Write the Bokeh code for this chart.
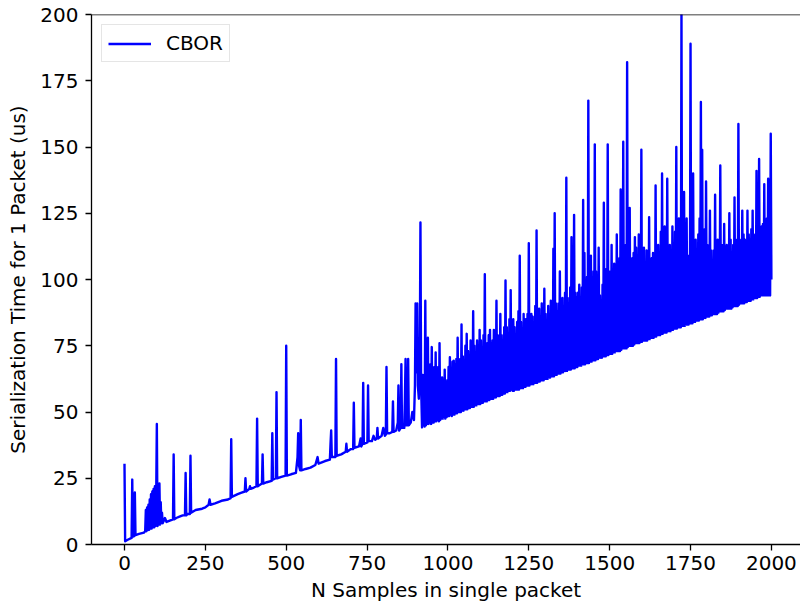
from bokeh.plotting import figure
from bokeh.models import Range1d, FixedTicker, Span
from bokeh.embed import file_html
from bokeh.resources import INLINE

FONT = "DejaVu Sans"

x_ticks = [0, 250, 500, 750, 1000, 1250, 1500, 1750, 2000]
y_ticks = [0, 25, 50, 75, 100, 125, 150, 175, 200]
series_name = "CBOR"

# Region 1: N samples 0 .. 917 (sparse spikes over a rising baseline)
samples_a = [
    0, 2, 10, 22, 24, 26, 30, 32, 34, 45,
    60, 64, 66, 68, 70, 72, 74, 76, 78, 80,
    82, 84, 86, 88, 90, 92, 94, 96, 98, 100,
    102, 104, 106, 108, 110, 112, 114, 116, 118, 125,
    130, 140, 150, 152, 154, 160, 170, 180, 187, 189,
    191, 195, 202, 204, 206, 220, 240, 250, 260, 263,
    266, 280, 300, 320, 328, 330, 332, 350, 360, 372,
    374, 376, 386, 388, 390, 400, 408, 410, 412, 425,
    427, 429, 440, 455, 457, 459, 468, 470, 472, 485,
    498, 500, 502, 515, 530, 535, 537, 539, 543, 545,
    547, 560, 575, 590, 597, 600, 620, 635, 637, 639,
    641, 652, 654, 656, 670, 684, 686, 688, 700, 707,
    709, 711, 725, 730, 732, 736, 738, 740, 751, 753,
    755, 765, 770, 775, 780, 782, 784, 795, 800, 805,
    808, 810, 812, 820, 828, 830, 832, 840, 845, 847,
    849, 854, 856, 858, 865, 867, 869, 871, 875, 877,
    879, 885, 890, 895, 898, 900, 902, 905, 907, 910,
    913, 915, 917,
]
time_a = [
    30.5, 1.2, 1.8, 2.5, 24.5, 3, 3.2, 19.6, 3.5, 4,
    4.5, 5, 13, 5, 14, 5.5, 15, 5.5, 17, 6,
    19, 6, 20, 6.5, 21, 6.5, 22, 7, 18, 45.5,
    7, 20, 7.5, 23, 7.5, 16, 8, 12, 8, 10,
    8.5, 9, 9.5, 34, 9.5, 10, 10.5, 11, 11, 27,
    11, 11.5, 11.5, 33.5, 12, 13, 13.5, 14, 15, 17,
    15, 15.5, 16.5, 17, 17.5, 39.7, 18, 19, 19.5, 20,
    25, 20, 21, 22, 21, 21.5, 22, 47.5, 22, 23,
    34, 23, 23.5, 24, 42, 24.5, 25, 57.5, 25, 25.5,
    26, 75, 26, 26.5, 27, 33, 42, 30, 28, 47,
    28, 28.5, 29, 30, 33, 30.5, 31.5, 32, 38, 43,
    33, 33, 70, 33.5, 34, 35, 38, 35, 36, 36,
    53.5, 36.5, 37, 40, 37, 38, 61, 38, 38.5, 60,
    39, 39, 41, 39.5, 40, 44, 40, 41, 44, 41,
    41.5, 67, 42, 42, 42.5, 54, 42.5, 43, 46, 60,
    43, 44, 68, 44, 44, 55, 70, 45, 45, 70,
    45, 46, 50, 47, 60, 91, 65, 91, 60, 55,
    70, 121.5, 60,
]

# Region 2: every second N from 920 to 1458 (dense oscillation)
samples_b = list(range(920, 1460, 2))
time_b = [
    44.2, 64, 45, 62, 44.5, 92, 45, 66, 45.5, 78,
    45.5, 64, 46, 68, 45.5, 74.5, 46, 65, 46, 67,
    46.5, 72.5, 46.5, 64, 47, 67, 46.5, 76, 47, 63,
    47.5, 63, 47.5, 61, 48, 66, 47.5, 60, 48, 62,
    48.5, 67, 48.5, 70.7, 49, 66, 48.5, 69, 49, 69.4,
    49, 68, 49.5, 70, 49.5, 78, 50, 66, 50, 70,
    50, 83, 50.5, 71, 50.5, 68, 51, 75, 51, 79.5,
    51, 73, 51.5, 70, 51.5, 77, 52, 71, 52, 88,
    52, 75, 52.5, 72, 52.5, 77, 53, 73, 53, 81,
    53, 77, 53.5, 73, 53.5, 79, 54, 102, 54, 76,
    54, 76, 54.5, 79, 54.5, 81, 55, 76, 55, 77,
    55, 81, 55.5, 76, 55.5, 92, 56, 79, 56, 77,
    56, 87, 56.5, 79, 56.5, 76, 57, 82, 57, 99.6,
    57.5, 82, 57.5, 78, 58, 85, 58, 96, 58.5, 80,
    58, 85, 58, 82, 58.5, 78, 58.5, 84, 58.5, 88,
    58.5, 109, 59, 84, 59, 81, 59, 87, 59.5, 85,
    59.5, 85, 60, 87, 60, 113.7, 60, 82, 60.5, 87,
    60.5, 86, 60.5, 84, 61, 90, 61, 118.5, 61, 89,
    61.5, 89, 61.5, 86, 62, 91, 62, 84, 62, 96.5,
    62.5, 87, 62.5, 84, 62.5, 90, 63, 86, 63, 92,
    63.5, 89, 63.5, 111.6, 63.5, 125, 64, 91, 64, 88,
    64.5, 91, 64.5, 103, 64.5, 89, 65, 93, 65, 89,
    65.5, 95, 65.5, 138.4, 65.5, 93, 66, 91, 66, 97,
    66, 116, 66.5, 99, 66.5, 124.4, 66.5, 95, 67, 93,
    67, 95, 67.5, 98, 67.5, 93, 67.5, 97, 68, 130,
    68, 110, 68, 95, 68.5, 101, 68.5, 167.5, 68.5, 99,
    69, 109, 69, 101, 69.5, 103, 69.5, 151, 69.5, 103,
]

# Region 3: every second N from 1460 to 2000 (dense oscillation, largest spikes)
samples_c = list(range(1460, 2001, 2))
time_c = [
    70, 96, 70, 112, 70.5, 94, 70.5, 92, 70.5, 98,
    71, 129, 71, 98, 71, 104, 71.5, 151, 71.5, 100,
    72, 103, 72, 113, 72, 98, 72.5, 106, 72.5, 102,
    73, 117, 73, 100, 73, 108, 73, 134, 73.5, 104,
    74, 152, 74, 106, 74, 113, 74, 182, 74.5, 108,
    75, 127, 75, 104, 75, 108, 75, 110, 75.5, 116,
    76, 112, 76, 106, 76, 117, 76, 108, 76.5, 149,
    76.5, 108, 77, 112, 77, 104, 77, 111, 77, 106,
    77.5, 123.5, 77.5, 106, 78, 108, 78, 110, 78, 105,
    78.5, 135.5, 78.5, 108, 79, 113, 79, 106, 79, 118,
    79.5, 140, 79.5, 112, 80, 120, 80, 108, 80, 138,
    80.5, 110, 80.5, 113, 80.5, 108, 81, 120, 81, 112,
    81.5, 118, 81.5, 150, 81.5, 112, 82, 123, 82, 114,
    82, 200.5, 82.5, 116, 82.5, 133, 82.5, 118, 83, 123,
    83, 109, 83, 98, 83.5, 189, 83.5, 111, 83.5, 140,
    84, 109, 84, 115, 84.5, 111, 84.5, 117, 84.5, 123,
    85, 167, 85, 149, 85, 113, 85.5, 119, 85.5, 137,
    86, 113, 86, 109, 86, 126, 86.5, 111, 86.5, 105,
    87, 111, 87, 132, 87, 109, 87, 115, 87.5, 111,
    88, 143, 88, 110, 88, 113, 88, 121, 88.5, 109,
    89, 113, 89, 111, 89, 125, 89, 115, 89, 110,
    89.5, 113, 90, 131, 90, 111, 90, 115, 90, 158.7,
    90.5, 115, 91, 113, 91, 126, 91, 117, 91, 115,
    91.5, 113, 91.5, 126, 92, 117, 92, 115, 92, 119,
    92.5, 126, 92.5, 115, 93, 117, 93, 141, 93, 119,
    93.5, 145.5, 93.5, 117, 94, 120, 94, 121, 94, 136,
    94, 117, 94, 123, 94, 138, 94, 115, 94, 155,
    100,
]

n_samples = []
ser_time = []
for xs, ys in ((samples_a, time_a), (samples_b, time_b), (samples_c, time_c)):
    k = min(len(xs), len(ys))
    n_samples += xs[:k]
    ser_time += ys[:k]

p = figure(width=800, height=607, output_backend="svg", toolbar_location=None,
           x_range=Range1d(-102, 2090), y_range=Range1d(0, 200),
           min_border_left=91, min_border_right=0, min_border_top=14,
           min_border_bottom=63)
p.outline_line_color = None
p.grid.visible = False
p.background_fill_color = "white"
p.border_fill_color = "white"

p.line(n_samples, ser_time, line_color="#0000ff", line_width=2.4,
       line_join="round", legend_label=series_name)

top_spine = Span(location=200, dimension="width", line_color="black", line_width=1.3)
p.add_layout(top_spine)

p.xaxis.ticker = FixedTicker(ticks=x_ticks)
p.yaxis.ticker = FixedTicker(ticks=y_ticks)
p.xaxis.axis_label = "N Samples in single packet"
p.yaxis.axis_label = "Serialization Time for 1 Packet (us)"

for ax in (p.xaxis[0], p.yaxis[0]):
    ax.axis_line_color = "black"
    ax.axis_line_width = 1.3
    ax.major_tick_line_color = "black"
    ax.major_tick_line_width = 1.3
    ax.major_tick_in = 0
    ax.major_tick_out = 6
    ax.minor_tick_line_color = None
    ax.major_label_text_font = FONT
    ax.major_label_text_font_size = "20px"
    ax.major_label_text_color = "black"
    ax.axis_label_text_font = FONT
    ax.axis_label_text_font_size = "20px"
    ax.axis_label_text_font_style = "normal"
    ax.axis_label_text_color = "black"

p.xaxis.major_label_standoff = 5
p.xaxis.axis_label_standoff = 5
p.yaxis.major_label_standoff = 7
p.yaxis.axis_label_standoff = 7

lg = p.legend[0]
lg.location = "top_left"
lg.margin = 10
lg.padding = 6
lg.spacing = 0
lg.glyph_width = 43
lg.glyph_height = 23
lg.label_standoff = 15
lg.label_text_font = FONT
lg.label_text_font_size = "20px"
lg.label_text_color = "black"
lg.border_line_color = "#cccccc"
lg.border_line_width = 1
lg.background_fill_color = "white"
lg.background_fill_alpha = 0.8

open("out.html", "w").write(file_html(p, INLINE))
